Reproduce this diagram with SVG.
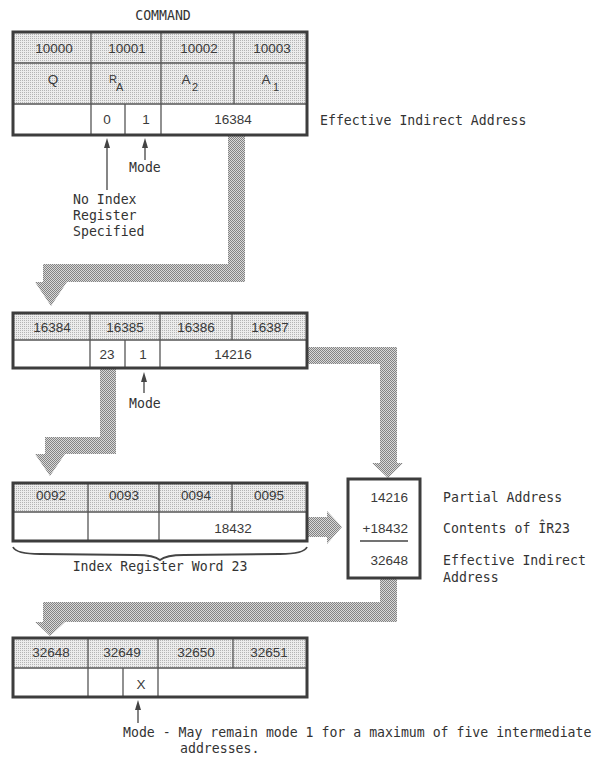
<svg xmlns="http://www.w3.org/2000/svg" width="603" height="758" viewBox="0 0 603 758">
<style>
.lbl{font-family:"DejaVu Sans Mono","Liberation Mono",monospace;font-size:13.2px;fill:#333}
.num{font-family:"Liberation Sans",Arial,sans-serif;font-size:13.5px;fill:#3a3a3a;text-anchor:middle}
.sub{font-family:"Liberation Sans",Arial,sans-serif;font-size:11px;fill:#3a3a3a}
.outer{fill:none;stroke:#3d3d3d;stroke-width:3}
.inner{stroke:#555;stroke-width:1.3;fill:none}
.hdr{fill:url(#lt)}
.band{fill:url(#dk)}
.thin{stroke:#444;stroke-width:1.3;fill:none}
.ah{fill:#444}
</style>
<defs>
<pattern id="lt" width="2" height="2" patternUnits="userSpaceOnUse">
<rect width="2" height="2" fill="#ececec"/><rect width="1" height="1" fill="#b4b4b4"/>
</pattern>
<pattern id="dk" width="2" height="2" patternUnits="userSpaceOnUse">
<rect width="2" height="2" fill="#d8d8d8"/><rect width="1" height="1" fill="#838383"/><rect x="1" y="1" width="1" height="1" fill="#838383"/>
</pattern>
</defs>
<rect width="603" height="758" fill="#fff"/>

<g id="connectors">
<polygon class="band" points="228,136 245,136 245,282 67,282 51,306 35,282 43,282 43,264 228,264"/>
<polygon class="band" points="307,347 397,347 397,463 403,463 388,478 372,463 380,463 380,364 307,364"/>
<polygon class="band" points="100,369 116,369 116,454 65,454 50,476 35,454 45,454 45,437 100,437"/>
<polygon class="band" points="308,517 327,517 327,511 342,527 327,544 327,537 308,537"/>
<polygon class="band" points="380,579 397,579 397,622 65,622 50,636 35,622 43,622 43,602 380,602"/>
</g>

<g id="command-title"><text class="lbl" x="163" y="20" text-anchor="middle">COMMAND</text></g>

<g id="command-word">
<rect class="hdr" x="13" y="32" width="294" height="72"/>
<rect x="13" y="104" width="294" height="31" fill="#fff"/>
<line class="inner" x1="13" y1="63" x2="307" y2="63"/>
<line class="inner" x1="13" y1="104" x2="307" y2="104"/>
<line class="inner" x1="91" y1="32" x2="91" y2="135"/>
<line class="inner" x1="161" y1="32" x2="161" y2="135"/>
<line class="inner" x1="234" y1="32" x2="234" y2="104"/>
<line class="inner" x1="125" y1="104" x2="125" y2="135"/>
<rect class="outer" x="13" y="32" width="294" height="103"/>
<text class="num" x="54" y="53">10000</text>
<text class="num" x="127" y="53">10001</text>
<text class="num" x="199" y="53">10002</text>
<text class="num" x="272" y="53">10003</text>
<text class="num" x="53" y="84">Q</text>
<text class="sub" x="109" y="83">R</text><text class="sub" x="116" y="91">A</text>
<text class="num" x="186" y="84">A</text><text class="sub" x="192" y="91">2</text>
<text class="num" x="266" y="84">A</text><text class="sub" x="273" y="91">1</text>
<text class="num" x="107" y="124">0</text>
<text class="num" x="146" y="124">1</text>
<text class="num" x="233" y="124">16384</text>
</g>
<g id="label-eia1"><text class="lbl" x="320" y="125">Effective Indirect Address</text></g>
<g id="label-mode1">
<line class="thin" x1="107" y1="146" x2="107" y2="190"/>
<polygon class="ah" points="107,138 104,148 110,148"/>
<line class="thin" x1="145" y1="146" x2="145" y2="160"/>
<polygon class="ah" points="145,138 142,148 148,148"/>
<text class="lbl" x="129" y="172">Mode</text>
<text class="lbl" x="73" y="204">No Index</text>
<text class="lbl" x="73" y="220">Register</text>
<text class="lbl" x="73" y="236">Specified</text>
</g>

<g id="word-16384">
<rect class="hdr" x="13" y="313" width="294" height="27"/>
<rect x="13" y="340" width="294" height="28" fill="#fff"/>
<line class="inner" x1="13" y1="340" x2="307" y2="340"/>
<line class="inner" x1="90" y1="313" x2="90" y2="368"/>
<line class="inner" x1="160" y1="313" x2="160" y2="368"/>
<line class="inner" x1="232" y1="313" x2="232" y2="340"/>
<line class="inner" x1="125" y1="340" x2="125" y2="368"/>
<rect class="outer" x="13" y="313" width="294" height="55"/>
<text class="num" x="52" y="332">16384</text>
<text class="num" x="125" y="332">16385</text>
<text class="num" x="196" y="332">16386</text>
<text class="num" x="270" y="332">16387</text>
<text class="num" x="107" y="359">23</text>
<text class="num" x="143" y="359">1</text>
<text class="num" x="233" y="359">14216</text>
</g>
<g id="label-mode2">
<line class="thin" x1="144" y1="380" x2="144" y2="393"/>
<polygon class="ah" points="144,372 141,382 147,382"/>
<text class="lbl" x="129" y="408">Mode</text>
</g>

<g id="index-register-word">
<rect class="hdr" x="13" y="483" width="294" height="29"/>
<rect x="13" y="512" width="294" height="29" fill="#fff"/>
<line class="inner" x1="13" y1="512" x2="307" y2="512"/>
<line class="inner" x1="88" y1="483" x2="88" y2="541"/>
<line class="inner" x1="159" y1="483" x2="159" y2="541"/>
<line class="inner" x1="232" y1="483" x2="232" y2="512"/>
<rect class="outer" x="13" y="483" width="294" height="58"/>
<text class="num" x="51" y="500">0092</text>
<text class="num" x="124" y="500">0093</text>
<text class="num" x="196" y="500">0094</text>
<text class="num" x="269" y="500">0095</text>
<text class="num" x="233" y="533">18432</text>
<path d="M13,547 Q16,554 40,554 L136,555 Q154,555 160,560 Q166,555 184,555 L280,554 Q304,554 307,547" fill="none" stroke="#444" stroke-width="1.8"/>
<text class="lbl" x="160" y="571" text-anchor="middle">Index Register Word 23</text>
</g>

<g id="sum-box">
<rect x="348" y="479" width="72" height="99" fill="#fff"/>
<rect class="outer" x="348" y="479" width="72" height="99"/>
<text class="num" x="408" y="502" style="text-anchor:end">14216</text>
<text class="num" x="408" y="533" style="text-anchor:end">+18432</text>
<line x1="360" y1="541" x2="408" y2="541" stroke="#444" stroke-width="1.3"/>
<text class="num" x="408" y="565" style="text-anchor:end">32648</text>
</g>
<g id="sum-labels">
<text class="lbl" x="443" y="502">Partial Address</text>
<text class="lbl" x="443" y="533">Contents of ÎR23</text>
<text class="lbl" x="443" y="565">Effective Indirect</text>
<text class="lbl" x="443" y="582">Address</text>
</g>

<g id="word-32648">
<rect class="hdr" x="13" y="638" width="294" height="30"/>
<rect x="13" y="668" width="294" height="29" fill="#fff"/>
<line class="inner" x1="13" y1="668" x2="307" y2="668"/>
<line class="inner" x1="88" y1="638" x2="88" y2="697"/>
<line class="inner" x1="158" y1="638" x2="158" y2="697"/>
<line class="inner" x1="233" y1="638" x2="233" y2="668"/>
<line class="inner" x1="123" y1="668" x2="123" y2="697"/>
<rect class="outer" x="13" y="638" width="294" height="59"/>
<text class="num" x="51" y="657">32648</text>
<text class="num" x="122" y="657">32649</text>
<text class="num" x="196" y="657">32650</text>
<text class="num" x="269" y="657">32651</text>
<text class="num" x="141" y="689">X</text>
</g>
<g id="label-mode3">
<line class="thin" x1="138" y1="709" x2="138" y2="723"/>
<polygon class="ah" points="138,700 135,710 141,710"/>
<text class="lbl" x="123" y="737">Mode - May remain mode 1 for a maximum of five intermediate</text>
<text class="lbl" x="180" y="753">addresses.</text>
</g>
</svg>
